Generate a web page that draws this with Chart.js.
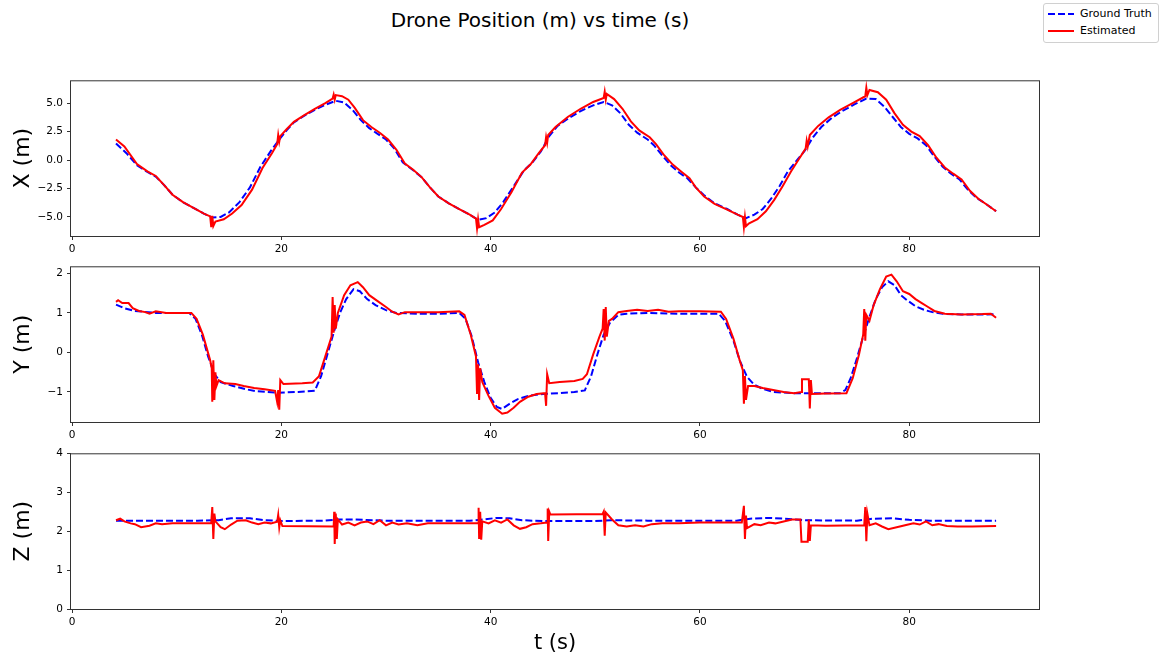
<!DOCTYPE html>
<html>
<head>
<meta charset="utf-8">
<script src="https://cdn.jsdelivr.net/npm/chart.js@4.4.0/dist/chart.umd.min.js"></script>
<style>
  body { margin: 0; background: #fff; width: 1175px; height: 656px; overflow: hidden; position: relative; font-family: "DejaVu Sans", sans-serif; }
  canvas { position: absolute; left: 0; }
  #title { position: absolute; top: 8px; left: 0; width: 1080px; text-align: center; font-size: 20px; line-height: 24px; color: #000; }
  #legend { position: absolute; left: 1043px; top: 3px; width: 114px; height: 38px; border: 1px solid #d0d0d0; border-radius: 3px; background: #fff; font-size: 11px; color: #000; }
  #legend .row { position: absolute; left: 3px; height: 16px; line-height: 16px; }
  #legend svg { position: absolute; left: 0; top: 0; }
  #legend span { position: absolute; left: 33px; white-space: nowrap; }
</style>
</head>
<body>
<div id="title">Drone Position (m) vs time (s)</div>
<div id="legend">
  <div class="row" style="top:2px"><svg width="30" height="16"><line x1="1" y1="8" x2="27" y2="8" stroke="#0000ff" stroke-width="2" stroke-dasharray="7,3"/></svg><span>Ground Truth</span></div>
  <div class="row" style="top:19px"><svg width="30" height="16"><line x1="1" y1="8" x2="27" y2="8" stroke="#ff0000" stroke-width="2"/></svg><span>Estimated</span></div>
</div>
<canvas id="cx" width="1175" height="188" style="top:70px"></canvas>
<canvas id="cy" width="1175" height="188" style="top:256px"></canvas>
<canvas id="cz" width="1175" height="213" style="top:443px"></canvas>
<script>
// time axis ticks
const tTicks = [0, 20, 40, 60, 80];

// X position
const xTicks = [-5, -2.5, 0, 2.5, 5];
const tXgt = [4.2,5.2,6.2,7.2,8.0,8.8,9.6,10.6,11.6,12.6,13.4,14.2,15.0,16.0,17.0,18.0,19.0,19.8,20.5,21.2,22.2,23.2,24.2,25.2,26.0,26.8,27.6,28.4,29.2,30.0,30.8,31.6,32.6,33.4,34.2,35.0,36.0,37.0,38.0,38.8,39.6,40.4,41.2,42.2,43.2,44.0,44.8,45.6,46.4,47.5,48.6,49.8,50.8,51.6,52.4,53.2,54.0,55.0,55.6,56.4,57.2,58.0,58.8,59.6,60.4,61.4,62.6,63.6,64.4,65.2,66.0,66.8,67.6,68.4,69.2,70.0,70.8,71.6,72.6,73.6,74.8,75.9,76.8,77.6,78.4,79.2,80.0,80.8,81.6,82.4,83.2,84.0,84.8,85.6,86.4,87.4,88.3];
const xGt = [1.45,0.6,-0.45,-1.05,-1.45,-2.2,-3.05,-3.7,-4.2,-4.7,-5.05,-5.0,-4.6,-3.7,-2.4,-0.6,0.8,1.8,2.6,3.3,3.9,4.4,4.85,5.2,5.05,4.4,3.5,2.8,2.3,1.8,1.0,-0.2,-0.9,-1.5,-2.4,-3.2,-3.8,-4.3,-4.8,-5.25,-5.1,-4.6,-3.7,-2.3,-0.9,-0.2,0.75,2.1,3.0,3.7,4.3,4.8,5.1,4.8,4.1,3.1,2.4,1.8,1.3,0.4,-0.45,-1.1,-1.6,-2.4,-3.1,-3.8,-4.3,-4.8,-5.1,-4.8,-4.3,-3.4,-2.3,-1.0,-0.1,0.8,2.0,2.9,3.7,4.3,4.9,5.4,5.35,4.7,3.8,2.9,2.3,1.9,1.3,0.3,-0.6,-1.2,-1.7,-2.6,-3.3,-3.9,-4.5];
const tXest = [4.2,5.0,6.2,7.2,8.0,8.8,9.6,10.6,11.6,12.6,13.2,13.3,13.4,13.5,13.7,14.5,15.3,16.2,17.2,18.2,19.1,19.6,19.7,19.8,19.9,20.5,21.2,22.2,23.2,24.2,24.9,25.0,25.1,25.2,25.8,26.4,27.0,27.8,28.6,29.4,30.2,31.0,31.8,32.6,33.4,34.2,35.0,36.0,37.0,38.0,38.6,38.7,38.8,38.9,39.4,40.2,41.0,42.0,43.0,43.8,44.6,45.2,45.3,45.4,45.5,46.2,47.4,48.6,49.8,50.8,50.9,51.0,51.1,51.8,52.6,53.4,54.2,55.2,55.8,56.6,57.4,58.2,59.0,59.6,60.4,61.4,62.6,63.6,64.1,64.2,64.3,64.4,64.7,65.5,66.3,67.1,67.9,68.7,69.4,70.1,70.2,70.3,70.5,71.3,72.3,73.4,74.6,75.8,75.9,76.0,76.2,77.0,77.8,78.6,79.4,80.2,81.0,81.8,82.6,83.4,84.2,85.0,85.8,86.6,87.4,88.3];
const xEst = [1.8,1.2,-0.35,-1.0,-1.4,-2.2,-3.05,-3.7,-4.2,-4.7,-4.95,-5.9,-4.9,-5.8,-5.4,-5.2,-4.7,-3.95,-2.6,-0.7,0.6,1.4,2.2,1.6,2.1,2.7,3.35,3.95,4.5,5.0,5.4,5.75,5.3,5.7,5.6,5.3,4.6,3.5,2.9,2.4,1.8,0.9,-0.3,-0.85,-1.5,-2.4,-3.2,-3.8,-4.3,-4.8,-5.15,-6.0,-5.2,-5.9,-5.7,-5.3,-4.3,-2.8,-1.1,-0.4,0.6,1.3,2.0,1.5,2.2,2.9,3.8,4.5,5.1,5.45,6.0,5.3,5.8,5.35,4.5,3.4,2.6,2.0,1.4,0.4,-0.4,-1.0,-1.6,-2.4,-3.2,-3.85,-4.35,-4.8,-5.0,-5.9,-5.0,-5.8,-5.55,-5.2,-4.5,-3.5,-2.3,-1.0,0.0,1.0,1.7,1.2,2.2,3.0,3.75,4.4,5.0,5.6,6.35,5.7,6.15,5.95,5.3,4.1,3.1,2.5,2.1,1.3,0.2,-0.65,-1.2,-1.7,-2.7,-3.4,-3.9,-4.5];

// Y position
const yTicks = [-1, 0, 1, 2];
const tYgt = [4.2,5.0,6.0,8.0,11.2,11.8,12.4,13.0,13.6,14.2,15.4,16.6,17.6,19.6,21.6,23.2,23.8,24.4,25.0,25.6,26.2,26.9,27.5,28.2,29.0,30.0,31.0,33.0,35.0,37.0,37.6,38.2,38.8,39.4,40.0,40.6,41.1,41.8,42.6,43.6,45.0,46.6,48.0,49.0,49.6,50.2,50.8,51.4,52.2,53.0,55.0,58.0,61.8,62.4,63.2,63.8,64.5,65.2,66.0,67.0,69.0,73.4,73.9,74.4,75.0,75.6,76.2,76.8,77.4,78.0,78.6,79.2,79.8,80.6,81.4,82.2,83.2,85.0,87.0,88.3];
const yGt = [1.21,1.12,1.05,1.0,1.0,0.85,0.45,-0.1,-0.55,-0.75,-0.85,-0.93,-0.98,-1.02,-1.0,-0.97,-0.6,-0.05,0.5,1.0,1.35,1.6,1.55,1.35,1.2,1.07,1.0,0.98,0.98,1.0,0.85,0.4,-0.25,-0.75,-1.15,-1.38,-1.43,-1.3,-1.18,-1.1,-1.05,-1.03,-1.0,-0.96,-0.6,-0.05,0.45,0.75,0.95,0.98,1.0,0.98,0.98,0.8,0.3,-0.2,-0.62,-0.82,-0.92,-1.0,-1.03,-1.03,-0.95,-0.65,-0.15,0.4,0.9,1.35,1.65,1.8,1.7,1.45,1.32,1.17,1.08,1.02,0.98,0.96,0.96,0.97];
const tYest = [4.2,4.4,4.8,5.4,5.8,6.4,7.0,7.4,8.0,9.0,11.4,11.9,12.5,13.2,13.35,13.4,13.5,13.6,13.7,13.8,14.0,14.6,15.6,16.4,17.4,18.4,19.4,19.6,19.7,19.8,19.9,20.2,22.0,23.0,23.6,24.2,24.8,24.9,25.0,25.1,25.2,25.4,26.0,26.6,27.3,27.8,28.4,29.2,30.0,30.6,31.2,31.8,33.0,35.0,37.0,37.5,38.1,38.6,38.7,38.8,38.9,39.0,39.2,39.8,40.4,41.1,41.6,42.2,42.8,43.6,44.4,45.2,45.3,45.4,45.6,46.6,48.0,48.8,49.2,49.8,50.4,50.7,50.8,50.9,51.0,51.1,51.3,51.6,52.2,53.0,54.0,55.0,56.0,57.0,58.0,60.0,62.0,62.5,63.2,63.8,64.1,64.2,64.3,64.4,64.6,65.2,66.0,67.0,68.0,69.0,69.7,69.75,70.4,70.45,70.5,70.6,70.7,72.0,74.0,74.6,75.2,75.6,75.7,75.8,75.9,76.2,76.6,77.2,77.8,78.3,78.8,79.4,80.0,80.6,81.2,81.8,82.4,83.4,85.0,87.0,87.8,88.3];
const yEst = [1.28,1.32,1.25,1.25,1.12,1.05,1.02,0.98,1.04,1.0,1.0,0.85,0.45,-0.2,-0.4,-1.25,-0.2,-1.2,-0.5,-0.85,-0.7,-0.78,-0.8,-0.85,-0.9,-0.93,-0.97,-1.25,-0.95,-1.45,-0.7,-0.8,-0.78,-0.76,-0.6,-0.1,0.4,1.4,0.5,1.2,0.6,1.0,1.45,1.7,1.78,1.65,1.45,1.3,1.15,1.03,0.96,1.02,1.02,1.02,1.04,0.95,0.45,-0.1,-1.05,-0.3,-1.2,-0.4,-0.75,-1.1,-1.4,-1.55,-1.52,-1.4,-1.25,-1.12,-1.05,-1.03,-1.35,-0.55,-0.78,-0.75,-0.72,-0.67,-0.55,-0.05,0.4,0.6,1.1,0.3,1.15,0.4,0.8,0.85,1.02,1.05,1.08,1.05,1.08,1.03,1.04,1.04,1.03,0.85,0.35,-0.2,-0.45,-1.3,-0.6,-1.2,-0.85,-0.85,-0.9,-0.95,-1.0,-1.03,-1.0,-0.68,-0.68,-1.0,-1.42,-0.7,-1.05,-1.04,-1.03,-0.65,-0.05,0.45,1.1,0.3,0.95,0.8,1.2,1.6,1.92,1.97,1.8,1.55,1.48,1.35,1.25,1.15,1.05,0.98,0.96,0.97,0.98,0.88];

// Z position
const zTicks = [0, 1, 2, 3, 4];
const tZgt = [4.2,8.0,12.0,14.0,15.2,17.0,18.5,20.0,24.0,25.5,27.0,30.0,38.0,39.4,40.5,41.8,43.0,45.0,50.0,51.5,55.0,63.5,64.8,66.5,68.0,70.0,75.0,76.5,78.5,80.0,82.0,88.3];
const zGt = [2.27,2.27,2.27,2.28,2.33,2.33,2.28,2.26,2.27,2.3,2.3,2.27,2.27,2.3,2.34,2.33,2.28,2.26,2.26,2.28,2.27,2.27,2.32,2.34,2.32,2.28,2.27,2.32,2.33,2.29,2.27,2.27];
const tZest = [4.2,4.6,5.0,5.6,6.0,6.6,7.4,8.0,8.6,9.6,12.0,13.3,13.4,13.5,13.6,13.7,14.2,14.6,15.2,15.8,16.6,17.2,17.8,18.4,19.0,19.6,19.7,19.8,19.9,20.1,25.0,25.05,25.1,25.2,25.3,25.4,25.8,26.4,27.0,27.6,28.2,28.8,29.4,30.0,30.6,31.2,32.0,33.0,34.0,36.0,38.8,38.85,38.9,39.0,39.1,39.2,39.8,40.4,41.0,41.6,42.2,42.8,43.4,44.0,44.8,45.4,45.45,45.5,45.6,45.7,50.7,50.8,50.9,51.0,51.6,52.2,53.0,53.8,54.6,55.4,56.4,58.0,60.0,64.0,64.2,64.3,64.4,64.5,65.2,65.8,66.6,67.2,68.0,68.8,69.6,69.7,70.3,70.4,70.5,70.6,72.0,75.7,75.8,75.9,76.0,76.2,76.8,77.4,78.0,78.8,79.6,80.4,81.0,81.6,82.2,82.8,83.6,84.6,86.0,88.3];
const zEst = [2.28,2.32,2.25,2.2,2.18,2.1,2.14,2.2,2.18,2.2,2.2,2.21,2.62,1.8,2.45,2.25,2.1,2.05,2.17,2.27,2.28,2.22,2.18,2.22,2.2,2.24,2.42,2.1,2.28,2.13,2.12,2.5,1.67,2.45,1.8,2.3,2.17,2.22,2.15,2.22,2.25,2.18,2.28,2.15,2.22,2.17,2.2,2.15,2.2,2.2,2.2,2.6,1.8,2.5,1.78,2.25,2.2,2.28,2.22,2.3,2.15,2.06,2.1,2.18,2.2,2.22,2.58,1.75,2.5,2.43,2.44,2.5,1.88,2.48,2.3,2.15,2.12,2.15,2.12,2.18,2.2,2.2,2.22,2.22,2.65,1.8,2.4,2.08,2.18,2.15,2.22,2.2,2.25,2.3,2.3,1.73,1.73,2.3,1.75,2.15,2.14,2.15,2.62,1.74,2.45,2.15,2.2,2.12,2.05,2.1,2.15,2.2,2.17,2.25,2.15,2.18,2.13,2.12,2.12,2.13];

const toPts = (ts, vs) => ts.map((t, i) => ({ x: t, y: vs[i] }));
const minus = v => String(v).replace('-', '\u2212');

const boxPlugin = {
  id: 'box',
  afterDraw(chart) {
    const a = chart.chartArea;
    const ctx = chart.ctx;
    ctx.save();
    ctx.strokeStyle = '#333';
    ctx.lineWidth = 1;
    ctx.strokeRect(a.left - 0.5, a.top + 0.5, a.right - a.left + 1, a.bottom - a.top);
    ctx.restore();
  }
};

function makePlot(id, tEst, vEst, tGt, vGt, yMin, yMax, ticks, fmt, yLabel, bottomH, xLabel) {
  new Chart(document.getElementById(id), {
    type: 'line',
    data: {
      datasets: [
        { label: 'Estimated', data: toPts(tEst, vEst), borderColor: '#ff0000', borderWidth: 2, pointRadius: 0, tension: 0, fill: false },
        { label: 'Ground Truth', data: toPts(tGt, vGt), borderColor: '#0000ff', borderWidth: 2, borderDash: [7, 3], pointRadius: 0, tension: 0, fill: false }
      ]
    },
    options: {
      responsive: false,
      animation: false,
      events: [],
      layout: { padding: { left: 0, right: 136, top: 10, bottom: 0 } },
      plugins: { legend: { display: false }, tooltip: { enabled: false } },
      scales: {
        x: {
          type: 'linear', min: -0.1, max: 92.4,
          afterBuildTicks: s => { s.ticks = tTicks.map(v => ({ value: v })); },
          afterFit: s => { s.height = bottomH; },
          grid: { drawOnChartArea: false, drawTicks: true, tickLength: 4, color: '#333' },
          border: { display: false },
          ticks: { color: '#000', font: { family: 'DejaVu Sans', size: 10.5 }, padding: 3, maxRotation: 0 },
          title: { display: !!xLabel, text: xLabel || '', color: '#000', font: { family: 'DejaVu Sans', size: 21 }, padding: { top: 0, bottom: 0 } }
        },
        y: {
          type: 'linear', min: yMin, max: yMax,
          afterBuildTicks: s => { s.ticks = ticks.map(v => ({ value: v })); },
          afterFit: s => { s.width = 71; },
          grid: { drawOnChartArea: false, drawTicks: true, tickLength: 4, color: '#333' },
          border: { display: false },
          ticks: { color: '#000', font: { family: 'DejaVu Sans', size: 10.5 }, padding: 4, callback: v => minus(fmt(v)) },
          title: { display: true, text: yLabel, color: '#000', font: { family: 'DejaVu Sans', size: 22 }, padding: { top: 10, bottom: 0 } }
        }
      }
    },
    plugins: [boxPlugin]
  });
}

makePlot('cx', tXest, xEst, tXgt, xGt, -6.67, 7.0, xTicks, v => v.toFixed(1), 'X (m)', 22, null);
makePlot('cy', tYest, yEst, tYgt, yGt, -1.76, 2.18, yTicks, v => v.toFixed(0), 'Y (m)', 22, null);
makePlot('cz', tZest, zEst, tZgt, zGt, 0, 4, zTicks, v => v.toFixed(0), 'Z (m)', 47, 't (s)');
</script>
</body>
</html>
